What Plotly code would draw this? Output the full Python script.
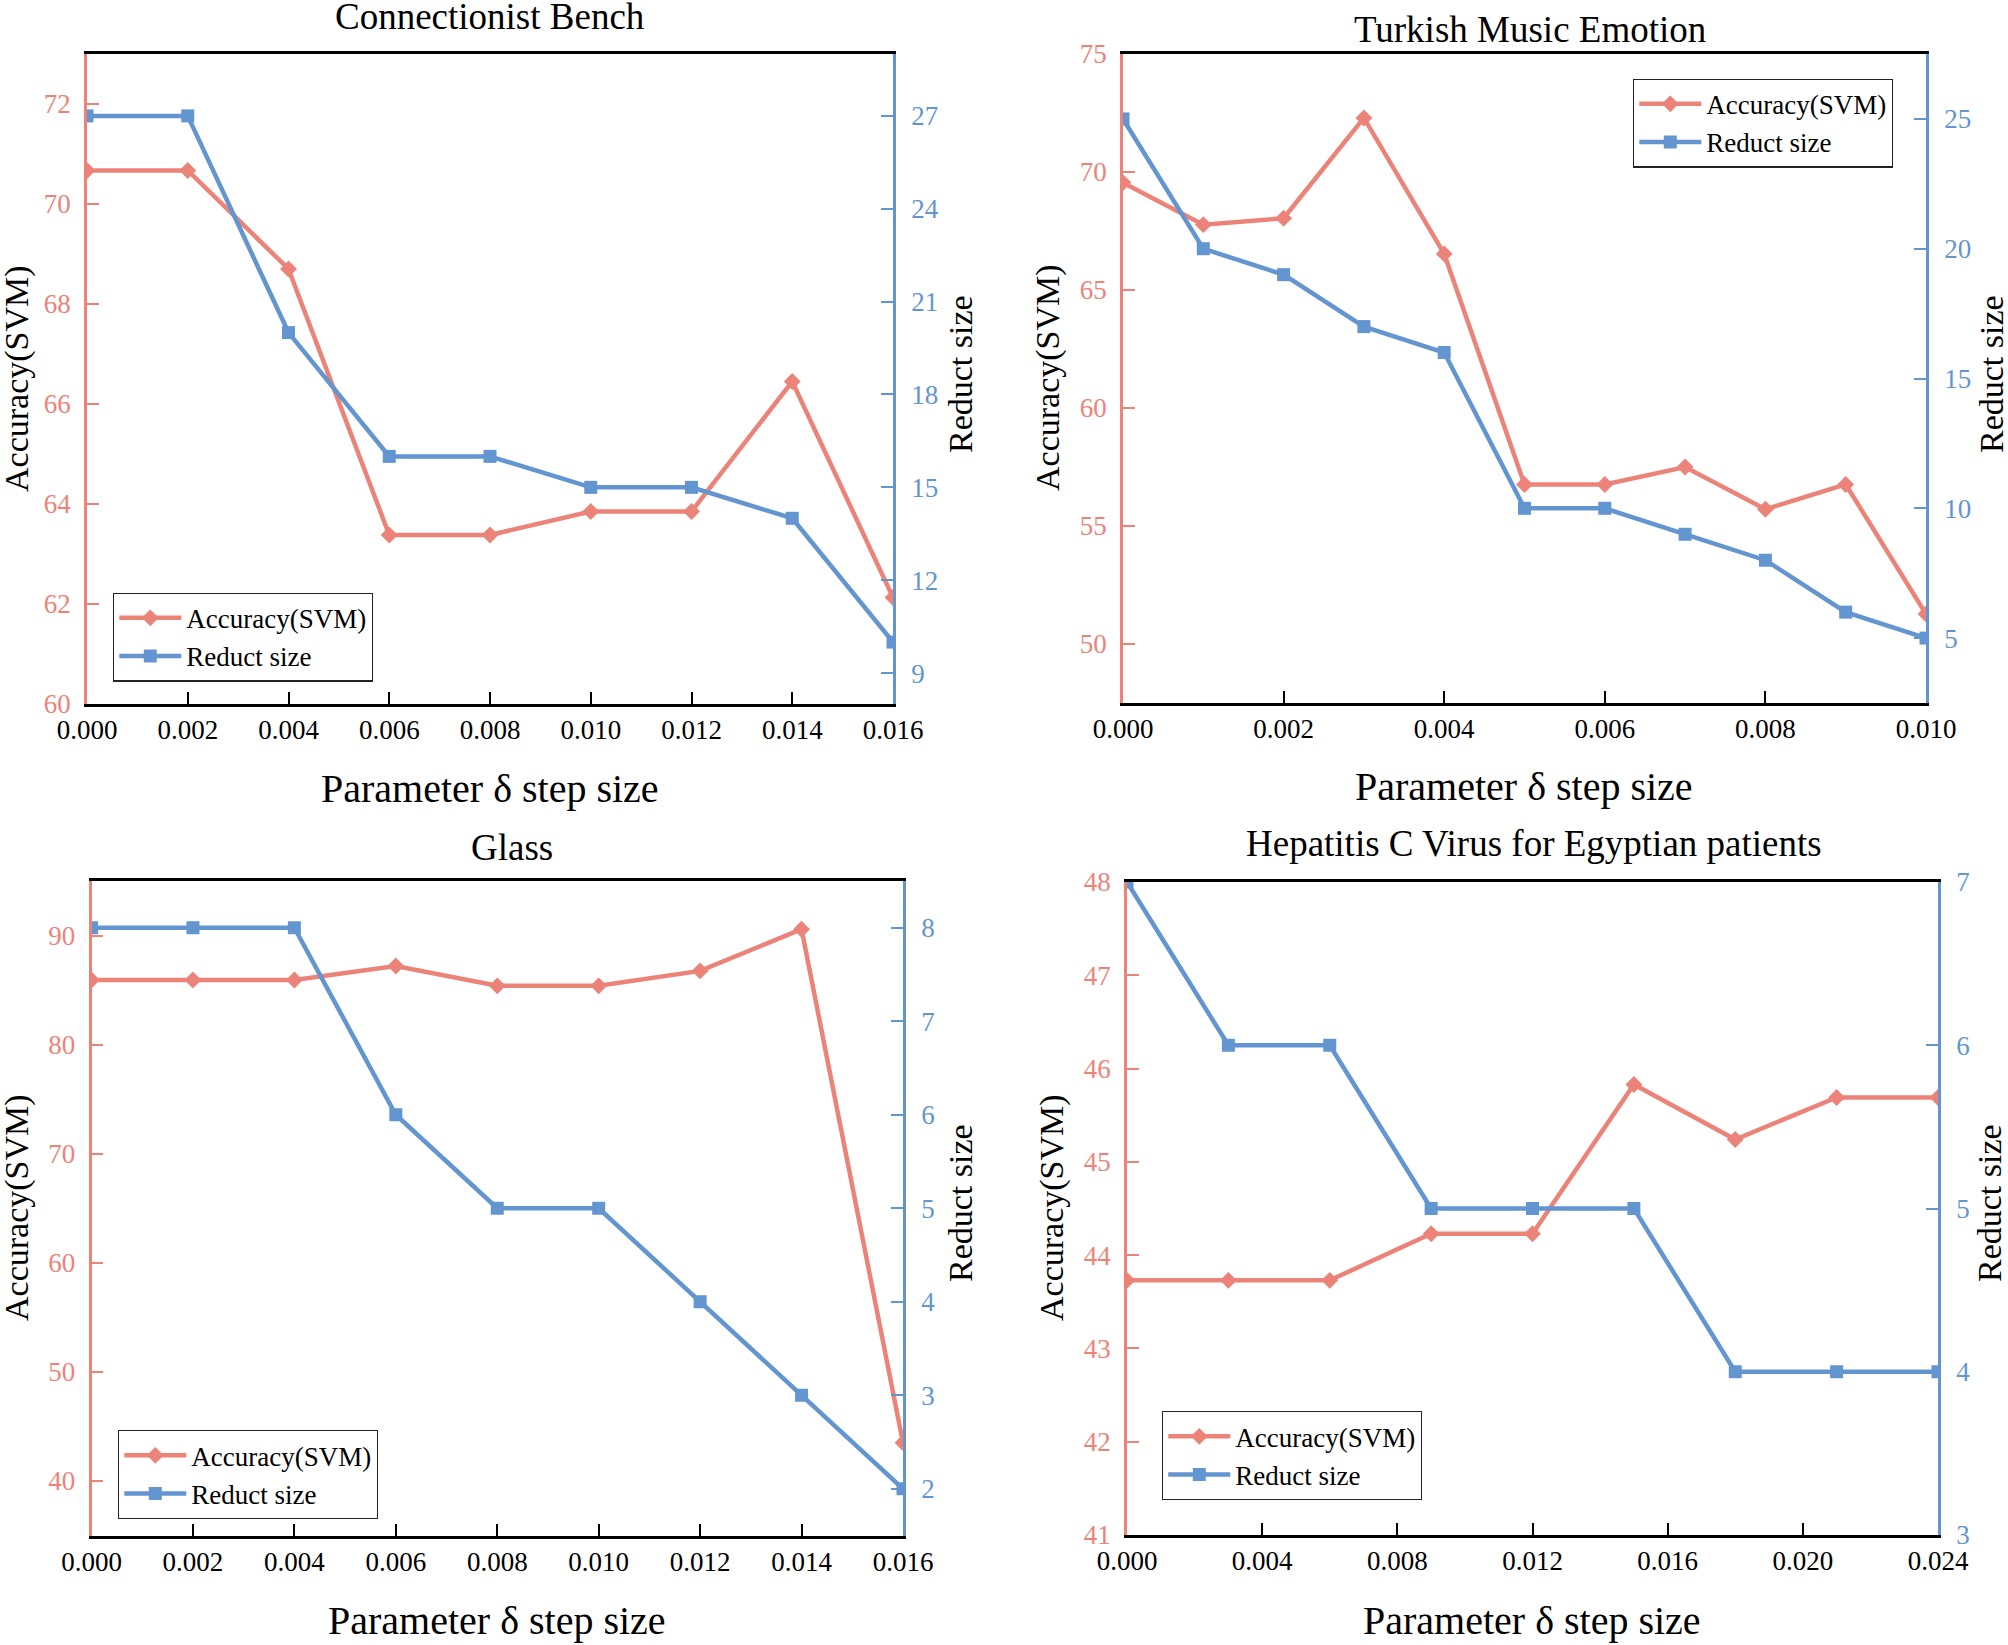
import plotly.graph_objects as go

W, H = 2008, 1645
RED = "#EC8379"
BLUE = "#6395D0"
FONT = "Liberation Serif"

# ---------------- data ----------------
cb_step = [0.000, 0.002, 0.004, 0.006, 0.008, 0.010, 0.012, 0.014, 0.016]
cb_acc = [70.67, 70.67, 68.70, 63.38, 63.38, 63.85, 63.85, 66.45, 62.13]
cb_red = [27, 27, 20, 16, 16, 15, 15, 14, 10]

tm_step = [0.000, 0.001, 0.002, 0.003, 0.004, 0.005, 0.006, 0.007, 0.008, 0.009, 0.010]
tm_acc = [69.55, 67.77, 68.04, 72.29, 66.53, 56.76, 56.76, 57.50, 55.71, 56.76, 51.27]
tm_red = [25, 20, 19, 17, 16, 10, 10, 9, 8, 6, 5]

gl_step = [0.000, 0.002, 0.004, 0.006, 0.008, 0.010, 0.012, 0.014, 0.016]
gl_acc = [85.92, 85.92, 85.92, 87.21, 85.39, 85.39, 86.76, 90.58, 43.50]
gl_red = [8, 8, 8, 6, 5, 5, 4, 3, 2]

hc_step = [0.000, 0.003, 0.006, 0.009, 0.012, 0.015, 0.018, 0.021, 0.024]
hc_acc = [43.73, 43.73, 43.73, 44.23, 44.23, 45.83, 45.24, 45.69, 45.69]
hc_red = [7, 6, 6, 5, 5, 5, 4, 4, 4]

titles = ["Connectionist Bench", "Turkish Music Emotion", "Glass",
          "Hepatitis C Virus for Egyptian patients"]
acc_name = "Accuracy(SVM)"
red_name = "Reduct size"
x_title = "Parameter δ step size"

# ---------------- layout helpers ----------------
def fx(px):
    return px / W

def fy(py):
    return 1 - py / H

panels = [
    dict(x=cb_step, acc=cb_acc, red=cb_red, box=(87, 893, 54, 704),
         xr=[0, 0.016], xd=0.002, yl=[60, 73], dl=2, yr=[8, 29], dr=3,
         title=(490, 16), xt=(490, 788), ylt=(17, 379), yrt=(960, 374),
         leg=(113, 637)),
    dict(x=tm_step, acc=tm_acc, red=tm_red, box=(1123, 1926, 54, 703),
         xr=[0, 0.010], xd=0.002, yl=[47.5, 75], dl=5, yr=[2.5, 27.5], dr=5,
         title=(1530, 29), xt=(1524, 786), ylt=(1048, 378), yrt=(1991, 374),
         leg=(1633, 123)),
    dict(x=gl_step, acc=gl_acc, red=gl_red, box=(91.5, 903, 881, 1535.5),
         xr=[0, 0.016], xd=0.002, yl=[35, 95], dl=10, yr=[1.5, 8.5], dr=1,
         title=(512, 847), xt=(497, 1620), ylt=(17, 1208), yrt=(960, 1203),
         leg=(118, 1474.5)),
    dict(x=hc_step, acc=hc_acc, red=hc_red, box=(1127, 1938, 882, 1535),
         xr=[0, 0.024], xd=0.004, yl=[41, 48], dl=1, yr=[3, 7], dr=1,
         title=(1534, 843), xt=(1532, 1620), ylt=(1052, 1208), yrt=(1989, 1203),
         leg=(1162, 1455.5)),
]

fig = go.Figure()
layout = dict(template="none", width=W, height=H, autosize=False,
              margin=dict(l=0, r=0, t=0, b=0, pad=0, autoexpand=False),
              paper_bgcolor="white", plot_bgcolor="white",
              font=dict(family=FONT, color="black"),
              showlegend=True, annotations=[])

for i, p in enumerate(panels):
    k = i + 1
    xa = "x" if k == 1 else f"x{k}"
    yl_id = 2 * k - 1
    yr_id = 2 * k
    yla = "y" if yl_id == 1 else f"y{yl_id}"
    yra = f"y{yr_id}"
    legname = "legend" if k == 1 else f"legend{k}"
    x0, x1, y0, y1 = p["box"]

    fig.add_trace(go.Scatter(
        x=p["x"], y=p["acc"], name=acc_name, mode="lines+markers",
        xaxis=xa, yaxis=yla, legend=legname,
        line=dict(color=RED, width=4.5),
        marker=dict(symbol="diamond", size=13, color=RED)))
    fig.add_trace(go.Scatter(
        x=p["x"], y=p["red"], name=red_name, mode="lines+markers",
        xaxis=xa, yaxis=yra, legend=legname,
        line=dict(color=BLUE, width=4.5),
        marker=dict(symbol="square", size=13, color=BLUE)))

    xkey = "xaxis" if k == 1 else f"xaxis{k}"
    ylkey = "yaxis" if yl_id == 1 else f"yaxis{yl_id}"
    yrkey = f"yaxis{yr_id}"

    layout[xkey] = dict(
        domain=[fx(x0), fx(x1)], anchor=yla, range=p["xr"], dtick=p["xd"],
        tick0=0, tickformat=".3f", showgrid=False, zeroline=False,
        automargin=False,
        showline=True, linecolor="black", linewidth=2.6, mirror=True,
        ticks="inside", ticklen=12, tickwidth=2.4, tickcolor="black",
        tickfont=dict(family=FONT, size=27, color="black"))
    layout[ylkey] = dict(
        domain=[fy(y1), fy(y0)], anchor=xa, range=p["yl"], dtick=p["dl"],
        tick0=0, side="left", showgrid=False, zeroline=False,
        automargin=False,
        showline=True, linecolor=RED, linewidth=2.6,
        ticks="inside", ticklen=12, tickwidth=2.4, tickcolor=RED,
        ticklabelstandoff=8,
        tickfont=dict(family=FONT, size=27, color=RED))
    layout[yrkey] = dict(
        domain=[fy(y1), fy(y0)], anchor=xa, overlaying=yla, range=p["yr"],
        dtick=p["dr"], tick0=0, side="right", showgrid=False, zeroline=False,
        automargin=False,
        showline=True, linecolor=BLUE, linewidth=2.6,
        ticks="inside", ticklen=12, tickwidth=2.4, tickcolor=BLUE,
        ticklabelstandoff=10,
        tickfont=dict(family=FONT, size=27, color=BLUE))

    lx, ly = p["leg"]
    layout[legname] = dict(
        x=fx(lx), y=fy(ly), xanchor="left", yanchor="middle",
        xref="paper", yref="paper",
        bgcolor="white", bordercolor="#222222", borderwidth=1.3,
        itemwidth=62, tracegroupgap=0,
        font=dict(family=FONT, size=27, color="black"))

    tx, ty = p["title"]
    layout["annotations"].append(dict(
        text=titles[i], x=fx(tx), y=fy(ty), xref="paper", yref="paper",
        xanchor="center", yanchor="middle", showarrow=False,
        font=dict(family=FONT, size=37, color="black")))
    ax, ay = p["xt"]
    layout["annotations"].append(dict(
        text=x_title, x=fx(ax), y=fy(ay), xref="paper", yref="paper",
        xanchor="center", yanchor="middle", showarrow=False,
        font=dict(family=FONT, size=40, color="black")))
    lx2, ly2 = p["ylt"]
    layout["annotations"].append(dict(
        text=acc_name, x=fx(lx2), y=fy(ly2), xref="paper", yref="paper",
        xanchor="center", yanchor="middle", showarrow=False, textangle=-90,
        font=dict(family=FONT, size=34, color="black")))
    rx2, ry2 = p["yrt"]
    layout["annotations"].append(dict(
        text=red_name, x=fx(rx2), y=fy(ry2), xref="paper", yref="paper",
        xanchor="center", yanchor="middle", showarrow=False, textangle=-90,
        font=dict(family=FONT, size=34, color="black")))

fig.update_layout(**layout)
fig.write_html("out.html",
               config={"displayModeBar": False},
               post_script="document.body.style.margin='0';"
                           "document.body.style.overflow='hidden';")
